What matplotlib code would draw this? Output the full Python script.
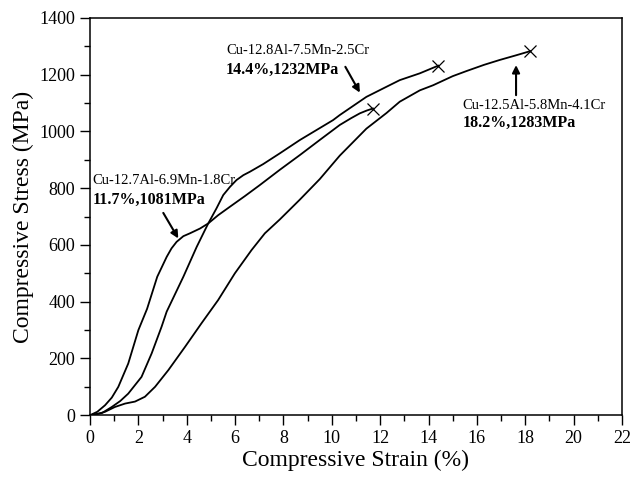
from matplotlib import pyplot as plt
from matplotlib.ticker import MultipleLocator

plt.rcParams['font.family'] = ['Liberation Serif', 'DejaVu Serif']

# Cu-12.7Al-6.9Mn-1.8Cr
strain_18 = [0, 0.3, 0.62, 0.9, 1.17, 1.58, 2.0, 2.36, 2.78, 3.17, 3.37, 3.58, 3.86, 4.13,
             4.55, 4.89, 5.3, 5.79, 6.4, 7.02, 7.85, 8.68, 9.5, 10.33, 10.8, 11.16,
             11.45, 11.7]
stress_18 = [0, 12, 35, 62, 100, 182, 300, 375, 488, 558, 588, 611, 631, 641,
             658, 676, 705, 735, 772, 811, 865, 917, 970, 1023, 1047, 1064,
             1074, 1081]

# Cu-12.8Al-7.5Mn-2.5Cr
strain_25 = [0, 0.5, 0.9, 1.25, 1.58, 2.13, 2.55, 2.96, 3.17, 3.86, 4.41, 4.75, 4.89,
             5.23, 5.51, 5.79, 6.06, 6.34, 6.61, 7.16, 7.85, 8.68, 10.05, 10.33,
             11.43, 12.2, 12.81, 13.64, 14.4]
stress_25 = [0, 8, 29, 50, 76, 135, 218, 312, 365, 488, 593, 652, 676,
             729, 776, 805, 829, 846, 858, 885, 923, 970, 1040, 1058,
             1122, 1155, 1181, 1205, 1232]

# Cu-12.5Al-5.8Mn-4.1Cr
strain_41 = [0, 0.3, 0.62, 1.03, 1.45, 1.86, 2.27, 2.69, 3.24, 3.93, 4.61, 5.3, 5.99,
             6.68, 7.23, 7.85, 8.68, 9.5, 10.33, 11.43, 12.26, 12.81, 13.64, 14.19,
             15.0, 15.57, 16.3, 16.94, 17.6, 18.2]
stress_41 = [0, 4, 12, 29, 41, 48, 65, 100, 159, 241, 324, 406, 500,
             582, 641, 690, 760, 832, 915, 1010, 1065, 1105, 1145, 1163,
             1195, 1213, 1235, 1252, 1268, 1283]

curves = [(strain_18, stress_18), (strain_25, stress_25), (strain_41, stress_41)]

fig = plt.figure(figsize=(6.34, 4.8), dpi=100)
ax = fig.add_axes([0.142, 0.135, 0.839, 0.8275])

for x, y in curves:
	ax.plot(x, y, color='k', linewidth=1.3, solid_joinstyle='round')
	ax.plot(x[-1], y[-1], marker='x', color='k', markersize=9, markeredgewidth=0.9)

ax.set_xlim(0, 22)
ax.set_ylim(0, 1400)
ax.xaxis.set_major_locator(MultipleLocator(2))
ax.xaxis.set_minor_locator(MultipleLocator(1))
ax.yaxis.set_major_locator(MultipleLocator(200))
ax.yaxis.set_minor_locator(MultipleLocator(100))
ax.tick_params(which='major', direction='out', length=7, width=1, labelsize=13)
ax.tick_params(which='minor', direction='out', length=4, width=1)
for s in ax.spines.values():
	s.set_linewidth(1.1)

ax.set_xlabel('Compressive Strain (%)', fontsize=17, labelpad=2)
ax.set_ylabel('Compressive Stress (MPa)', fontsize=17, labelpad=4)

# annotations
arrow = dict(arrowstyle='-|>', color='k', lw=1.5, mutation_scale=11, shrinkA=0, shrinkB=0)

ax.text(5.62, 1287, 'Cu-12.8Al-7.5Mn-2.5Cr', fontsize=10.5, va='center')
ax.text(5.62, 1217, '14.4%,1232MPa', fontsize=11.5, fontweight='bold', va='center')
ax.annotate('', xy=(11.16, 1137), xytext=(10.56, 1228), arrowprops=arrow)

ax.text(0.1, 829, 'Cu-12.7Al-6.9Mn-1.8Cr', fontsize=10.5, va='center')
ax.text(0.1, 758, '11.7%,1081MPa', fontsize=11.5, fontweight='bold', va='center')
ax.annotate('', xy=(3.65, 623), xytext=(3.03, 713), arrowprops=arrow)

ax.text(15.41, 1093, 'Cu-12.5Al-5.8Mn-4.1Cr', fontsize=10.5, va='center')
ax.text(15.41, 1030, '18.2%,1283MPa', fontsize=11.5, fontweight='bold', va='center')
ax.annotate('', xy=(17.62, 1234), xytext=(17.62, 1128), arrowprops=arrow)

fig.savefig('out.png')
